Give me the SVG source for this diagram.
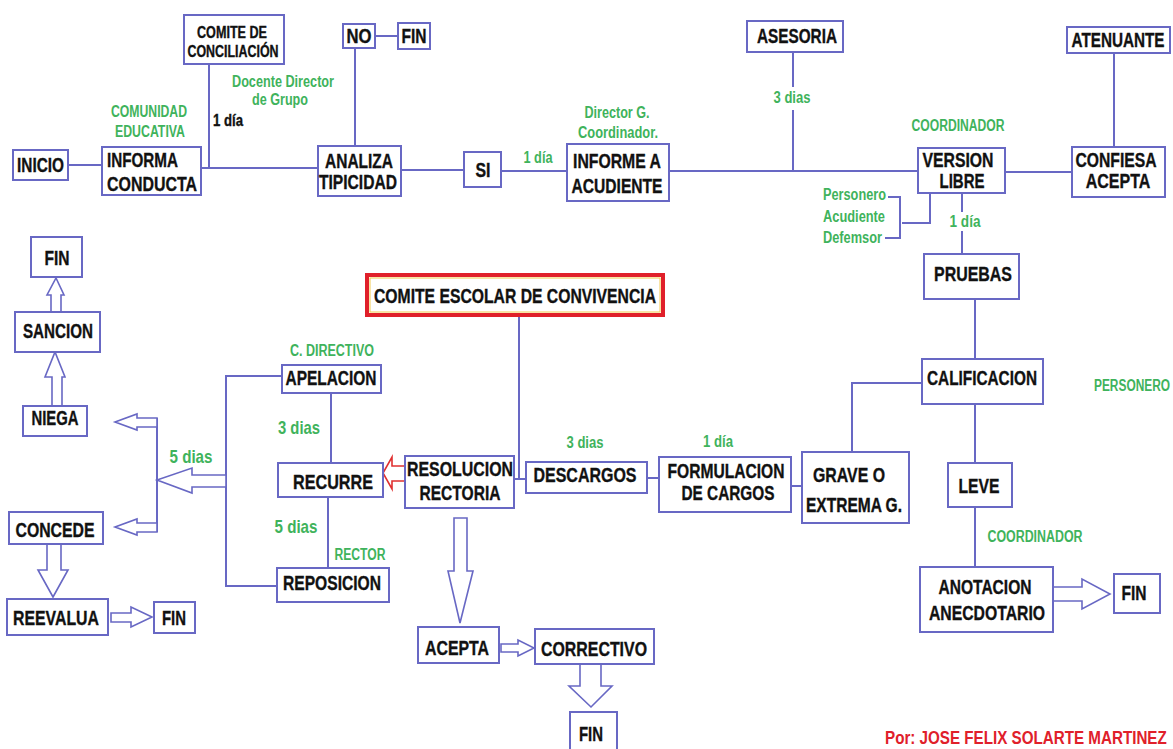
<svg xmlns="http://www.w3.org/2000/svg" width="1173" height="749" viewBox="0 0 1173 749">
<style>
.box{fill:#fff;stroke:#6868c4;stroke-width:2}
.ln{fill:none;stroke:#6868c4;stroke-width:2}
.arr{fill:#fff;stroke:#6868c4;stroke-width:1.6;stroke-linejoin:miter}
.t{font-family:"Liberation Sans",Arial,sans-serif;font-weight:bold;font-size:20px;fill:#111;stroke:#111;stroke-width:0.35;text-anchor:middle}
.s{font-size:16px}
.g{font-family:"Liberation Sans",Arial,sans-serif;font-weight:bold;font-size:16px;fill:#3fb35c;text-anchor:middle}
.gb{font-size:19px}
.r{font-family:"Liberation Sans",Arial,sans-serif;font-weight:bold;font-size:19px;fill:#e0202a}
</style>
<rect width="1173" height="749" fill="#fff"/>

<g id="connectors">
<path class="ln" d="M68 165H102"/>
<path class="ln" d="M201 168H318"/>
<path class="ln" d="M209 64V168"/>
<path class="ln" d="M355 48V146"/>
<path class="ln" d="M375 36H398"/>
<path class="ln" d="M401 170H464"/>
<path class="ln" d="M501 171H567"/>
<path class="ln" d="M669 171H918"/>
<path class="ln" d="M793 52V87M793 110V171"/>
<path class="ln" d="M1114 53V147"/>
<path class="ln" d="M1005 172H1072"/>
<path class="ln" d="M888 197H900V238H885M902 223H930V193"/>
<path class="ln" d="M962 193V212M962 231V254"/>
<path class="ln" d="M975 299V359"/>
<path class="ln" d="M922 383H852V452"/>
<path class="ln" d="M975 404V463"/>
<path class="ln" d="M975 507V567"/>
<path class="ln" d="M791 486H802"/>
<path class="ln" d="M647 478H659"/>
<path class="ln" d="M514 479H526"/>
<path class="ln" d="M519 315V479"/>
<path class="ln" d="M331 393V463"/>
<path class="ln" d="M328 497V568"/>
<path class="ln" d="M282 376H226V586H277"/>
<path class="ln" d="M157 418V532"/>
<polygon class="arr" points="52,406 52,377 45,377 55,352 65,377 62,377 62,406"/>
<polygon class="arr" points="51,312 51,295 47,295 56,278 64,295 61,295 61,312"/>
<polygon class="arr" points="47,544 47,570 38,570 53,597 68,570 61,570 61,544"/>
<polygon class="arr" points="111,613 131,613 131,607 152,617 131,627 131,622 111,622"/>
<polygon class="arr" points="226,475 192,475 192,468 157,480 192,493 192,487 226,487"/>
<polygon class="arr" points="157,418 137,418 137,414 115,422 137,430 137,427 157,427"/>
<polygon class="arr" points="157,523 137,523 137,519 115,527 137,535 137,532 157,532"/>
<polygon class="arr" points="454,518 454,571 448,571 460,623 473,571 467,571 467,518"/>
<polygon class="arr" points="501,644 518,644 518,640 534,648 518,656 518,652 501,652"/>
<polygon class="arr" points="580,664 580,686 569,686 591,707 612,686 601,686 601,664"/>
<polygon class="arr" points="1053,587 1082,587 1082,579 1110,594 1082,609 1082,601 1053,601"/>
<polygon points="405,466 392,466 392,457 383,473 392,489 392,481 405,481" fill="#fff" stroke="#e03030" stroke-width="1.6"/>
</g>

<g id="inicio"><rect class="box" x="13" y="150" width="55" height="30"/><text class="t" x="40.5" y="172" textLength="47" lengthAdjust="spacingAndGlyphs">INICIO</text></g>
<g id="informa"><rect class="box" x="102" y="147" width="99" height="48"/><text class="t" x="142.5" y="167" textLength="71" lengthAdjust="spacingAndGlyphs">INFORMA</text><text class="t" x="152" y="191" textLength="90" lengthAdjust="spacingAndGlyphs">CONDUCTA</text></g>
<g id="comite-conciliacion"><rect class="box" x="184" y="15" width="100" height="49"/><text class="t s" x="232" y="38" textLength="70" lengthAdjust="spacingAndGlyphs">COMITE DE</text><text class="t s" x="233" y="57" textLength="91" lengthAdjust="spacingAndGlyphs">CONCILIACIÓN</text></g>
<g id="analiza"><rect class="box" x="318" y="146" width="83" height="50"/><text class="t" x="359" y="168" textLength="68" lengthAdjust="spacingAndGlyphs">ANALIZA</text><text class="t" x="358" y="189" textLength="78" lengthAdjust="spacingAndGlyphs">TIPICIDAD</text></g>
<g id="no"><rect class="box" x="343" y="24" width="32" height="24"/><text class="t" x="359" y="43" textLength="25" lengthAdjust="spacingAndGlyphs">NO</text></g>
<g id="fin1"><rect class="box" x="398" y="23" width="32" height="26"/><text class="t" x="414" y="43" textLength="25" lengthAdjust="spacingAndGlyphs">FIN</text></g>
<g id="si"><rect class="box" x="464" y="152" width="37" height="35"/><text class="t" x="483" y="177" textLength="15" lengthAdjust="spacingAndGlyphs">SI</text></g>
<g id="informe"><rect class="box" x="567" y="144" width="102" height="57"/><text class="t" x="617" y="168" textLength="88" lengthAdjust="spacingAndGlyphs">INFORME A</text><text class="t" x="617" y="193" textLength="91" lengthAdjust="spacingAndGlyphs">ACUDIENTE</text></g>
<g id="asesoria"><rect class="box" x="747" y="21" width="96" height="31"/><text class="t" x="797" y="43" textLength="80" lengthAdjust="spacingAndGlyphs">ASESORIA</text></g>
<g id="atenuante"><rect class="box" x="1067" y="27" width="103" height="26"/><text class="t" transform="translate(1118 47) scale(0.764 1)" x="0" y="0">ATENUANTE</text></g>
<g id="version"><rect class="box" x="918" y="148" width="87" height="45"/><text class="t" x="958" y="167" textLength="71" lengthAdjust="spacingAndGlyphs">VERSION</text><text class="t" x="962" y="188" textLength="45" lengthAdjust="spacingAndGlyphs">LIBRE</text></g>
<g id="confiesa"><rect class="box" x="1072" y="147" width="93" height="50"/><text class="t" transform="translate(1116 167) scale(0.786 1)" x="0" y="0">CONFIESA</text><text class="t" transform="translate(1118 188) scale(0.8 1)" x="0" y="0">ACEPTA</text></g>
<g id="pruebas"><rect class="box" x="924" y="254" width="95" height="45"/><text class="t" x="973" y="281" textLength="78" lengthAdjust="spacingAndGlyphs">PRUEBAS</text></g>
<g id="calificacion"><rect class="box" x="922" y="359" width="121" height="45"/><text class="t" x="982" y="385" textLength="110" lengthAdjust="spacingAndGlyphs">CALIFICACION</text></g>
<g id="grave"><rect class="box" x="802" y="452" width="107" height="71"/><text class="t" x="849" y="482" textLength="72" lengthAdjust="spacingAndGlyphs">GRAVE O</text><text class="t" x="854" y="512" textLength="96" lengthAdjust="spacingAndGlyphs">EXTREMA G.</text></g>
<g id="leve"><rect class="box" x="948" y="463" width="64" height="44"/><text class="t" x="979" y="493" textLength="41" lengthAdjust="spacingAndGlyphs">LEVE</text></g>
<g id="anotacion"><rect class="box" x="920" y="567" width="133" height="65"/><text class="t" x="985" y="594" textLength="93" lengthAdjust="spacingAndGlyphs">ANOTACION</text><text class="t" x="987" y="620" textLength="116" lengthAdjust="spacingAndGlyphs">ANECDOTARIO</text></g>
<g id="fin-anotacion"><rect class="box" x="1114" y="574" width="46" height="39"/><text class="t" x="1134" y="600" textLength="25" lengthAdjust="spacingAndGlyphs">FIN</text></g>
<g id="comite-escolar"><rect x="367" y="275" width="296" height="40" fill="#fff" stroke="#e0202a" stroke-width="4"/><rect x="370" y="278" width="290" height="34" fill="none" stroke="#f2c94c" stroke-width="1"/><text class="t" x="515" y="303" textLength="282" lengthAdjust="spacingAndGlyphs">COMITE ESCOLAR DE CONVIVENCIA</text></g>
<g id="resolucion"><rect class="box" x="405" y="456" width="109" height="52"/><text class="t" x="460" y="476" textLength="106" lengthAdjust="spacingAndGlyphs">RESOLUCION</text><text class="t" x="460" y="500" textLength="81" lengthAdjust="spacingAndGlyphs">RECTORIA</text></g>
<g id="descargos"><rect class="box" x="526" y="462" width="121" height="31"/><text class="t" x="585" y="482" textLength="103" lengthAdjust="spacingAndGlyphs">DESCARGOS</text></g>
<g id="formulacion"><rect class="box" x="659" y="457" width="132" height="55"/><text class="t" x="726" y="478" textLength="117" lengthAdjust="spacingAndGlyphs">FORMULACION</text><text class="t" x="728" y="500" textLength="93" lengthAdjust="spacingAndGlyphs">DE CARGOS</text></g>
<g id="apelacion"><rect class="box" x="282" y="365" width="99" height="28"/><text class="t" x="331" y="385" textLength="91" lengthAdjust="spacingAndGlyphs">APELACION</text></g>
<g id="recurre"><rect class="box" x="278" y="463" width="105" height="34"/><text class="t" x="333" y="489" textLength="80" lengthAdjust="spacingAndGlyphs">RECURRE</text></g>
<g id="reposicion"><rect class="box" x="277" y="568" width="112" height="34"/><text class="t" x="332" y="590" textLength="98" lengthAdjust="spacingAndGlyphs">REPOSICION</text></g>
<g id="niega"><rect class="box" x="23" y="406" width="64" height="30"/><text class="t" x="55" y="425" textLength="47" lengthAdjust="spacingAndGlyphs">NIEGA</text></g>
<g id="sancion"><rect class="box" x="15" y="312" width="85" height="40"/><text class="t" x="58" y="338" textLength="70" lengthAdjust="spacingAndGlyphs">SANCION</text></g>
<g id="fin-sancion"><rect class="box" x="31" y="237" width="51" height="40"/><text class="t" x="57" y="265" textLength="25" lengthAdjust="spacingAndGlyphs">FIN</text></g>
<g id="concede"><rect class="box" x="9" y="512" width="94" height="32"/><text class="t" x="55" y="537" textLength="79" lengthAdjust="spacingAndGlyphs">CONCEDE</text></g>
<g id="reevalua"><rect class="box" x="7" y="599" width="101" height="36"/><text class="t" x="56" y="625" textLength="86" lengthAdjust="spacingAndGlyphs">REEVALUA</text></g>
<g id="fin-reevalua"><rect class="box" x="154" y="602" width="41" height="31"/><text class="t" x="174" y="625" textLength="24" lengthAdjust="spacingAndGlyphs">FIN</text></g>
<g id="acepta"><rect class="box" x="418" y="627" width="81" height="36"/><text class="t" x="457" y="655" textLength="64" lengthAdjust="spacingAndGlyphs">ACEPTA</text></g>
<g id="correctivo"><rect class="box" x="535" y="629" width="119" height="35"/><text class="t" x="594" y="656" textLength="106" lengthAdjust="spacingAndGlyphs">CORRECTIVO</text></g>
<g id="fin-correctivo"><rect class="box" x="570" y="712" width="47" height="40"/><text class="t" x="591" y="741" textLength="24" lengthAdjust="spacingAndGlyphs">FIN</text></g>

<g id="labels">
<text class="g" x="149" y="117" textLength="76" lengthAdjust="spacingAndGlyphs">COMUNIDAD</text>
<text class="g" x="150" y="137" textLength="70" lengthAdjust="spacingAndGlyphs">EDUCATIVA</text>
<text class="t s" x="228" y="126" textLength="30" lengthAdjust="spacingAndGlyphs">1 día</text>
<text class="g" x="283" y="87" textLength="102" lengthAdjust="spacingAndGlyphs">Docente Director</text>
<text class="g" x="280" y="105" textLength="56" lengthAdjust="spacingAndGlyphs">de Grupo</text>
<text class="g" x="538" y="163" textLength="29" lengthAdjust="spacingAndGlyphs">1 día</text>
<text class="g" x="617" y="118" textLength="65" lengthAdjust="spacingAndGlyphs">Director G.</text>
<text class="g" x="618" y="138" textLength="80" lengthAdjust="spacingAndGlyphs">Coordinador.</text>
<text class="g" x="792" y="103" textLength="37" lengthAdjust="spacingAndGlyphs">3 dias</text>
<text class="g" x="958" y="131" textLength="93" lengthAdjust="spacingAndGlyphs">COORDINADOR</text>
<text class="g" x="886" y="200" style="text-anchor:end" textLength="63" lengthAdjust="spacingAndGlyphs">Personero</text>
<text class="g" x="885" y="222" style="text-anchor:end" textLength="62" lengthAdjust="spacingAndGlyphs">Acudiente</text>
<text class="g" x="882" y="243" style="text-anchor:end" textLength="59" lengthAdjust="spacingAndGlyphs">Defemsor</text>
<text class="g" x="965" y="227" textLength="31" lengthAdjust="spacingAndGlyphs">1 día</text>
<text class="g" transform="translate(1094 391) scale(0.744 1)" x="0" y="0" style="text-anchor:start">PERSONERO</text>
<text class="g" x="1035" y="542" textLength="95" lengthAdjust="spacingAndGlyphs">COORDINADOR</text>
<text class="g" x="585" y="448" textLength="37" lengthAdjust="spacingAndGlyphs">3 dias</text>
<text class="g" x="718" y="447" textLength="30" lengthAdjust="spacingAndGlyphs">1 día</text>
<text class="g" x="332" y="356" textLength="84" lengthAdjust="spacingAndGlyphs">C. DIRECTIVO</text>
<text class="g gb" x="299" y="434" textLength="42" lengthAdjust="spacingAndGlyphs">3 dias</text>
<text class="g gb" x="296" y="533" textLength="43" lengthAdjust="spacingAndGlyphs">5 dias</text>
<text class="g" x="360" y="560" textLength="51" lengthAdjust="spacingAndGlyphs">RECTOR</text>
<text class="g gb" x="191" y="463" textLength="43" lengthAdjust="spacingAndGlyphs">5 dias</text>
<text class="r" transform="translate(885 744) scale(0.8 1)" x="0" y="0">Por: JOSE FELIX SOLARTE MARTINEZ</text>
</g>
</svg>
